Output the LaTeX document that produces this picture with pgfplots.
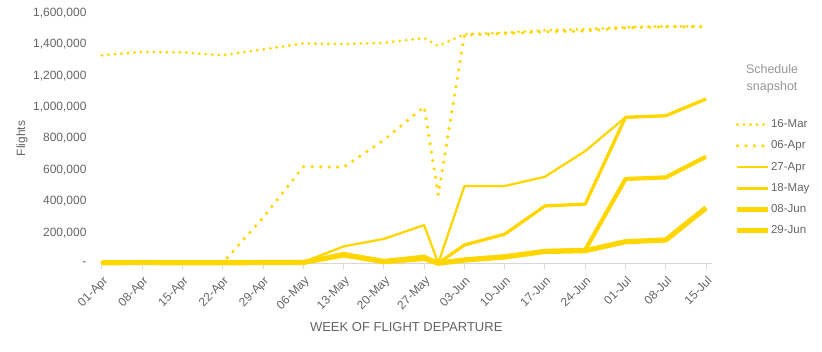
\documentclass[border=0pt]{standalone}
\usepackage{fontspec}
\setmainfont{Liberation Sans}
\usepackage{pgfplots}
\pgfplotsset{compat=1.18}
\definecolor{gold}{RGB}{255,214,0}
\definecolor{txt}{RGB}{100,100,100}
\definecolor{ttl}{RGB}{150,150,150}
\definecolor{axg}{RGB}{217,217,217}
\begin{document}
\begin{tikzpicture}
\useasboundingbox (0pt,0pt) rectangle (822pt,352pt);
\begin{axis}[
  at={(102pt,88pt)}, anchor=south west,
  scale only axis, width=609.7pt, height=251pt,
  xmin=0, xmax=15.14, ymin=0, ymax=1600000,
  clip=false,
  scaled y ticks=false,
  axis x line*=bottom,
  axis y line*=left,
  x axis line style={draw=axg, line width=1pt},
  y axis line style={draw=none},
  xtick={0,...,15},
  xticklabels={01-Apr,08-Apr,15-Apr,22-Apr,29-Apr,06-May,13-May,20-May,27-May,03-Jun,10-Jun,17-Jun,24-Jun,01-Jul,08-Jul,15-Jul},
  x tick style={draw=axg, line width=1pt},
  major tick length=5pt,
  tick align=outside,
  xticklabel style={rotate=45, anchor=north east, font=\fontsize{12}{14}\selectfont, text=txt, inner sep=1pt, yshift=-3.8pt, xshift=-3.4pt},
  ytick={0,200000,400000,600000,800000,1000000,1200000,1400000,1600000},
  yticklabels={-,{200,000},{400,000},{600,000},{800,000},{1,000,000},{1,200,000},{1,400,000},{1,600,000}},
  y tick style={draw=none},
  yticklabel style={anchor=east, font=\fontsize{12}{14}\selectfont, text=txt, xshift=-7pt},
  xlabel={WEEK OF FLIGHT DEPARTURE},
  xlabel style={at={(axis description cs:0.499,-0.251)}, anchor=center, font=\fontsize{13}{15}\selectfont, text=txt},
  ylabel={Flights},
  ylabel style={at={(axis description cs:-0.131,0.5)}, anchor=center, rotate=0, font=\fontsize{12}{14}\selectfont, text=txt},
  legend style={at={(axis description cs:1.038,0.579)}, anchor=north west, draw=none, fill=none,
    inner sep=0pt, outer sep=0pt, row sep=9.2pt, column sep=0pt,
    font=\fontsize{11.5}{13}\selectfont, text=txt,
    nodes={inner sep=0pt, text height=9pt, text depth=3pt}},
  legend cell align=left,
  legend image code/.code={\draw[#1] (0pt,0pt) -- (31pt,0pt);},
  every axis plot/.append style={color=gold, line join=round},
]
\addplot[line width=3.1pt, line cap=round, dash pattern=on 0pt off 6.5pt] coordinates {
(0,1330000) (1,1352000) (2,1349000) (3,1330000) (4,1368000) (5,1406000) (6,1402000) (7,1410000) (8,1440000) (8.35,1390000) (9,1465000) (10,1475000) (11,1490000) (12,1497000) (13,1510000) (14,1515000) (15,1515000)};
\addlegendentry{16-Mar}
\addplot[line width=3.6pt, line cap=round, dash pattern=on 0pt off 8.5pt] coordinates {
(0,8000) (1,8000) (2,8000) (3,8000) (4,295000) (5,620000) (6,617000) (7,790000) (8,1003000) (8.35,440000) (9,1460000) (10,1468000) (11,1480000) (12,1485000) (13,1505000) (14,1512000) (15,1512000)};
\addlegendentry{06-Apr}
\addplot[line width=2.3pt] coordinates {
(0,8000) (1,9000) (2,8000) (3,8000) (4,9000) (5,12000) (6,112000) (7,160000) (8,248000) (8.35,5000) (9,497000) (10,497000) (11,556000) (12,720000) (13,935000) (14,945000) (15,1052000)};
\addlegendentry{27-Apr}
\addplot[line width=3.3pt] coordinates {
(0,8000) (1,9000) (2,8000) (3,8000) (4,9000) (5,11000) (6,66000) (7,20000) (8,50000) (8.35,5000) (9,121000) (10,190000) (11,370000) (12,382000) (13,935000) (14,945000) (15,1052000)};
\addlegendentry{18-May}
\addplot[line width=4.2pt] coordinates {
(0,8000) (1,9000) (2,8000) (3,8000) (4,9000) (5,10000) (6,62000) (7,18000) (8,42000) (8.35,5000) (9,28000) (10,48000) (11,82000) (12,90000) (13,542000) (14,552000) (15,684000)};
\addlegendentry{08-Jun}
\addplot[line width=5.2pt] coordinates {
(0,8000) (1,9000) (2,8000) (3,8000) (4,9000) (5,10000) (6,58000) (7,15000) (8,35000) (8.35,5000) (9,25000) (10,45000) (11,80000) (12,85000) (13,142000) (14,153000) (15,358000)};
\addlegendentry{29-Jun}
\node[align=center, text=ttl, font=\fontsize{12.5}{17}\selectfont, inner sep=0pt] at (axis description cs:1.099,0.737) {Schedule\\snapshot};
\end{axis}
\end{tikzpicture}
\end{document}
